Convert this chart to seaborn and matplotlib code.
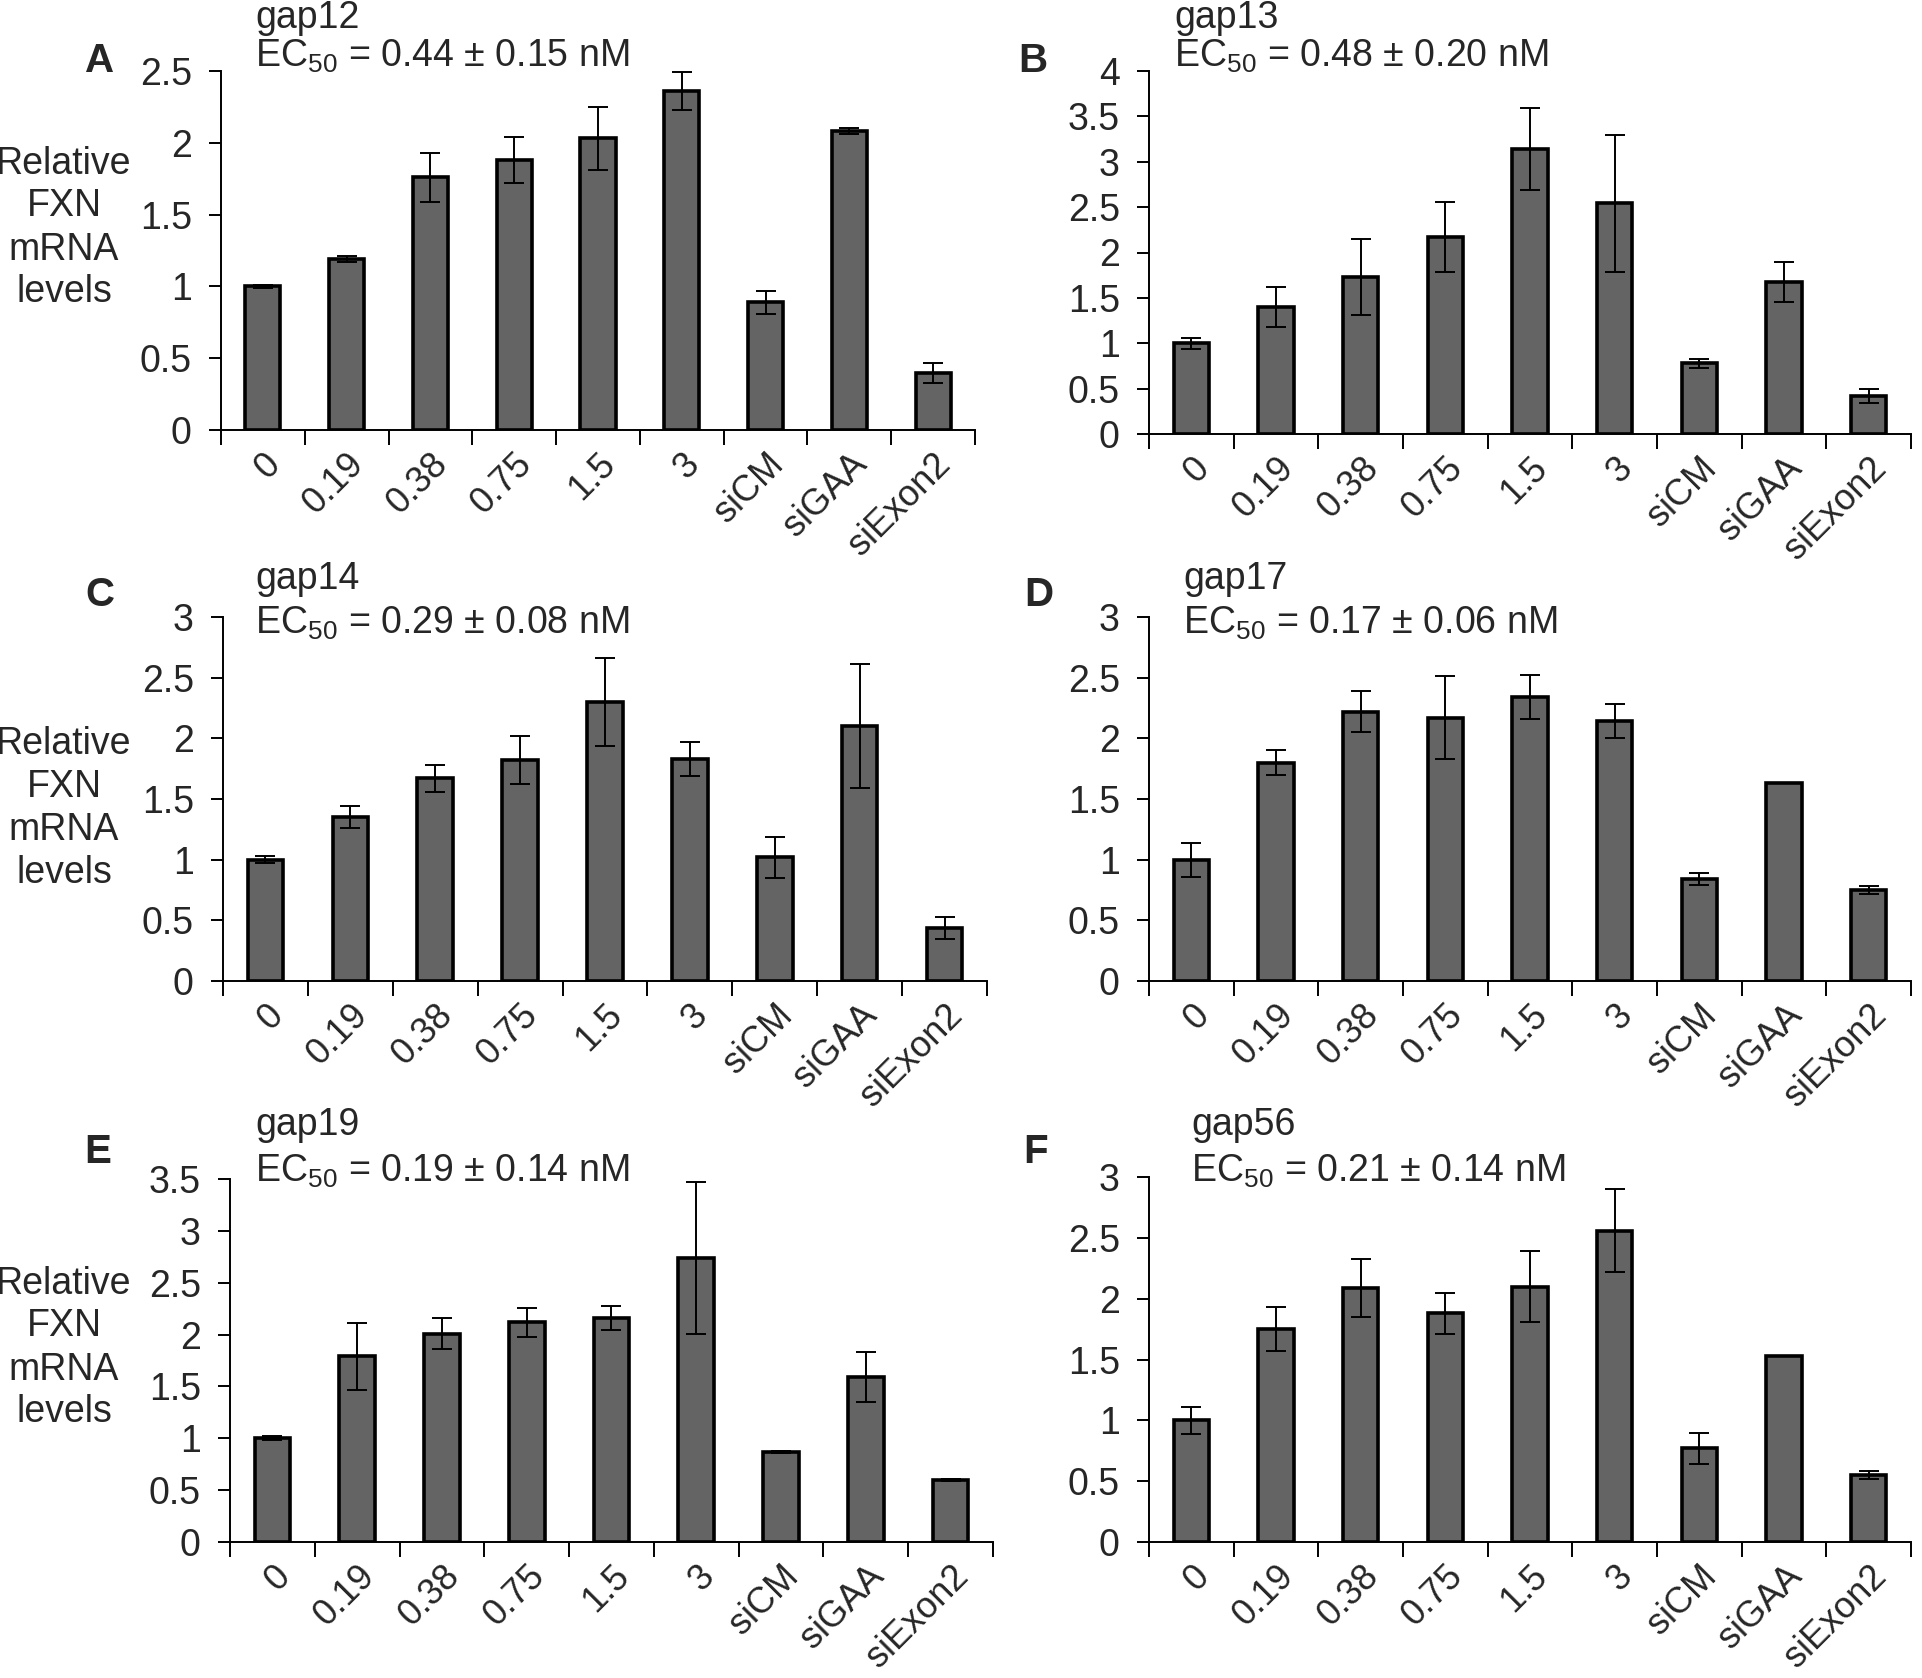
import numpy as np
import pandas as pd
import matplotlib
matplotlib.use("Agg")
import matplotlib.pyplot as plt
import seaborn as sns

categories = ["0", "0.19", "0.38", "0.75", "1.5", "3", "siCM", "siGAA", "siExon2"]

gap12_mean = [1.00, 1.19, 1.76, 1.88, 2.03, 2.36, 0.89, 2.08, 0.40]
gap12_err = [0.01, 0.02, 0.17, 0.16, 0.22, 0.13, 0.08, 0.02, 0.07]

gap13_mean = [1.00, 1.40, 1.73, 2.17, 3.14, 2.54, 0.78, 1.67, 0.42]
gap13_err = [0.06, 0.22, 0.42, 0.39, 0.45, 0.76, 0.05, 0.22, 0.08]

gap14_mean = [1.00, 1.35, 1.67, 1.82, 2.30, 1.83, 1.02, 2.10, 0.44]
gap14_err = [0.03, 0.09, 0.11, 0.20, 0.36, 0.14, 0.17, 0.51, 0.09]

gap17_mean = [1.00, 1.80, 2.22, 2.17, 2.34, 2.14, 0.84, 1.63, 0.75]
gap17_err = [0.14, 0.10, 0.17, 0.34, 0.18, 0.14, 0.05, 0.00, 0.03]

gap19_mean = [1.00, 1.79, 2.01, 2.12, 2.16, 2.74, 0.87, 1.59, 0.60]
gap19_err = [0.02, 0.32, 0.15, 0.14, 0.12, 0.73, 0.01, 0.24, 0.01]

gap56_mean = [1.00, 1.75, 2.09, 1.88, 2.10, 2.56, 0.77, 1.53, 0.55]
gap56_err = [0.11, 0.18, 0.24, 0.17, 0.29, 0.34, 0.13, 0.00, 0.03]

panel_names = ["gap12", "gap13", "gap14", "gap17", "gap19", "gap56"]
panel_letters = ["A", "B", "C", "D", "E", "F"]
ec50_texts = ["0.44 ± 0.15", "0.48 ± 0.20", "0.29 ± 0.08",
              "0.17 ± 0.06", "0.19 ± 0.14", "0.21 ± 0.14"]
y_max = [2.5, 4, 3, 3, 3.5, 3]

means = [gap12_mean, gap13_mean, gap14_mean, gap17_mean, gap19_mean, gap56_mean]
errs = [gap12_err, gap13_err, gap14_err, gap17_err, gap19_err, gap56_err]

sns.set_style("white")
plt.rcParams["font.family"] = ["Liberation Sans", "DejaVu Sans"]
plt.rcParams["mathtext.fontset"] = "custom"
plt.rcParams["mathtext.rm"] = "Liberation Sans"
plt.rcParams["mathtext.it"] = "Liberation Sans"

W, H = 1922, 1678
fig = plt.figure(figsize=(W / 100, H / 100), dpi=100)

# axes boxes in pixels: left, bottom, width, top
boxes = [
    (221, 430, 754, 71),
    (1149, 434, 762, 71),
    (223, 981, 764, 617),
    (1149, 981, 762, 617),
    (230, 1542, 763, 1179),
    (1149, 1542, 762, 1177),
]
# text anchors (pixels): name x, name y, ec y, letter x, letter y
text_pos = [
    (255, 18, 56, 100, 61),
    (1174, 18, 56, 1033, 61),
    (255, 579, 623, 100, 595),
    (1183, 579, 623, 1039, 595),
    (255, 1125, 1171, 98, 1152),
    (1191, 1125, 1171, 1036, 1152),
]
ylabel_y = [228, 808, 1348]

fs = 27

for i in range(6):
    l, b, w, t = boxes[i]
    ax = fig.add_axes([l / W, 1 - b / H, w / W, (b - t) / H])
    df = pd.DataFrame({"cat": categories, "val": means[i]})
    sns.barplot(data=df, x="cat", y="val", order=categories, color="#646464",
                saturation=1, edgecolor="black", linewidth=2.6, width=0.42,
                errorbar=None, ax=ax)
    ax.errorbar(np.arange(len(categories)), means[i], yerr=errs[i], fmt="none",
                ecolor="black", elinewidth=1.4, capsize=7, capthick=1.4)

    ax.set_xlim(-0.5, len(categories) - 0.5)
    ax.set_ylim(0, y_max[i])
    yt = np.arange(0, y_max[i] + 0.01, 0.5)
    ax.set_yticks(yt)
    ax.set_yticklabels([f"{v:g}" for v in yt], fontsize=fs)

    ax.set_xticks(np.arange(-0.5, len(categories), 1.0))
    ax.set_xticklabels([])
    ax.set_xticks(np.arange(len(categories)), minor=True)
    ax.set_xticklabels(categories, minor=True, rotation=45, ha="right",
                       rotation_mode="anchor", fontsize=fs - 1)
    ax.tick_params(axis="x", which="major", direction="out", length=11,
                   width=1.4, color="black", bottom=True)
    ax.tick_params(axis="x", which="minor", length=0, pad=12)
    ax.tick_params(axis="y", direction="out", length=9, width=1.4,
                   color="black", left=True, pad=12)
    ax.set_xlabel("")
    ax.set_ylabel("")
    for s in ["top", "right"]:
        ax.spines[s].set_visible(False)
    for s in ["left", "bottom"]:
        ax.spines[s].set_color("black")
        ax.spines[s].set_linewidth(1.4)

    nx, ny, ey, lx, ly = text_pos[i]
    fig.text(nx / W, 1 - ny / H, panel_names[i], fontsize=fs, va="center", ha="left")
    fig.text(nx / W, 1 - ey / H, r"EC$_{50}$ = " + ec50_texts[i] + " nM",
             fontsize=fs, va="center", ha="left")
    fig.text(lx / W, 1 - ly / H, panel_letters[i], fontsize=fs + 2,
             fontweight="bold", va="center", ha="center")

for yy in ylabel_y:
    fig.text(64 / W, 1 - yy / H, "Relative\nFXN\nmRNA\nlevels", fontsize=fs,
             va="center", ha="center", linespacing=1.25)

fig.savefig("out.png", dpi=100, facecolor="white")
